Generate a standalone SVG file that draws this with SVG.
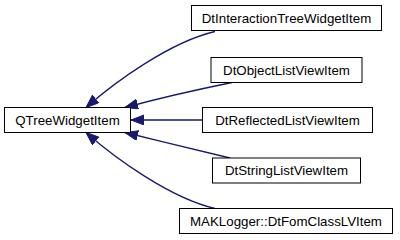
<svg xmlns="http://www.w3.org/2000/svg" width="400" height="240" viewBox="0 0 400 240">
<style>
.box{fill:#fff;stroke:#000;stroke-width:1}
.lbl{font-family:"Liberation Sans",Arial,sans-serif;font-size:13.3px;fill:#000;text-anchor:middle}
.edge{fill:none;stroke:#191970;stroke-width:1.3;marker-end:url(#arr)}
</style>
<defs>
<marker id="arr" markerUnits="userSpaceOnUse" markerWidth="14" markerHeight="11" refX="13" refY="5" orient="auto">
<path d="M0,0 L13,5 L0,10 z" fill="#191970" stroke="#191970" stroke-width="1"/>
</marker>
</defs>
<rect width="400" height="240" fill="#fff"/>
<g id="connectors">
<path class="edge" d="M215,31.5 C170,42 115,82 86,107.5"/>
<path class="edge" d="M232,82.5 C200,89 160,98 125,107.5"/>
<path class="edge" d="M202.5,120 L131,120"/>
<path class="edge" d="M230,158 C200,151 160,141 125,132.5"/>
<path class="edge" d="M215,208.5 C170,198 115,158 86,132.5"/>
</g>
<g id="QTreeWidgetItem">
<rect class="box" x="4.5" y="107.5" width="126" height="25"/>
<text class="lbl" x="67.5" y="124.8">QTreeWidgetItem</text>
</g>
<g id="DtInteractionTreeWidgetItem">
<rect class="box" x="191.5" y="5.5" width="190" height="25"/>
<text class="lbl" x="286.5" y="22.8">DtInteractionTreeWidgetItem</text>
</g>
<g id="DtObjectListViewItem">
<rect class="box" x="211" y="57.5" width="151" height="25"/>
<text class="lbl" x="286.5" y="74.8">DtObjectListViewItem</text>
</g>
<g id="DtReflectedListViewItem">
<rect class="box" x="202.5" y="107.5" width="170" height="25"/>
<text class="lbl" x="287.5" y="124.8">DtReflectedListViewItem</text>
</g>
<g id="DtStringListViewItem">
<rect class="box" x="212.5" y="158" width="148" height="25"/>
<text class="lbl" x="286.5" y="175.3">DtStringListViewItem</text>
</g>
<g id="MAKLogger_DtFomClassLVItem">
<rect class="box" x="179.5" y="208.5" width="213" height="25"/>
<text class="lbl" x="286" y="225.8">MAKLogger::DtFomClassLVItem</text>
</g>
</svg>
